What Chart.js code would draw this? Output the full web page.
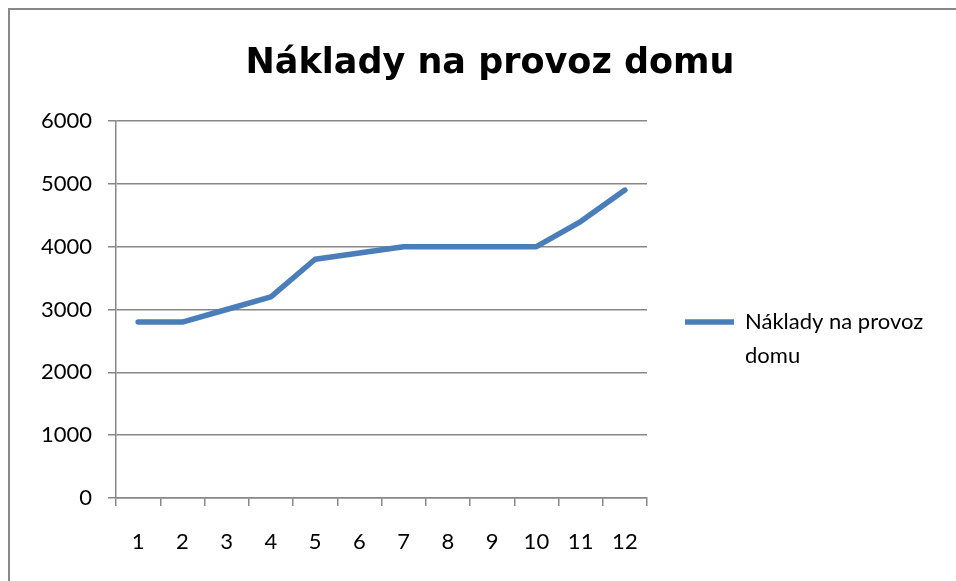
<!DOCTYPE html>
<html><head><meta charset="utf-8">
<script src="https://cdn.jsdelivr.net/npm/chart.js@4"></script>
<style>
html,body{margin:0;padding:0;background:#fff;overflow:hidden;}
#wrap{position:relative;width:956px;height:581px;}
#frame{position:absolute;left:8px;top:8px;width:1000px;height:1000px;border-top:2px solid #898989;border-left:2px solid #898989;pointer-events:none;}
canvas{position:absolute;left:0;top:0;}
</style></head><body>
<div id="wrap"><canvas id="c" width="956" height="581"></canvas><div id="frame"></div></div>
<script>
const chartTitle = 'Náklady na provoz domu';
const seriesName = 'Náklady na provoz domu';
const legendLines = ['Náklady na provoz', 'domu'];
const categories = ['1','2','3','4','5','6','7','8','9','10','11','12'];
const costs = [2800, 2800, 3000, 3200, 3800, 3900, 4000, 4000, 4000, 4000, 4400, 4900];
const yTicks = [0, 1000, 2000, 3000, 4000, 5000, 6000];

const FONT = 'Lato';
const TITLE_FONT = '"DejaVu Sans"';
const LINE_COLOR = '#4a7ebb';
const GRID = '#878787';

// layout targets
const plotLeft = 116, plotRight = 647, plotTop = 121, plotBottom = 498;
const legendX = 685, legendLineW = 49, legendFont = 22, legendFirstLineY = 322;
const titleLeft = 24, titleRight = 956;

const mctx = document.createElement('canvas').getContext('2d');
mctx.font = legendFont + 'px ' + FONT;
const textW = Math.max(...legendLines.map(t => mctx.measureText(t).width));
const itemW = legendLineW + legendFont / 2 + textW;
const padR = Math.max(0, 956 - legendX - 10 - itemW);
const legendPad = legendX - plotRight;
const legendTitleH = (legendFirstLineY - legendFont / 2) - plotTop - legendPad;

const titleSpan = {
  id: 'titleSpan',
  afterLayout(chart) {
    if (chart.titleBlock) { chart.titleBlock.left = titleLeft; chart.titleBlock.right = titleRight; }
  }
};

new Chart(document.getElementById('c'), {
  type: 'line',
  data: {
    labels: categories,
    datasets: [{
      label: seriesName,
      data: costs,
      borderColor: LINE_COLOR,
      backgroundColor: LINE_COLOR,
      borderWidth: 5.5,
      borderCapStyle: 'round',
      borderJoinStyle: 'round',
      pointRadius: 0,
      pointHoverRadius: 0,
      tension: 0,
      fill: false
    }]
  },
  plugins: [titleSpan],
  options: {
    responsive: false,
    animation: false,
    devicePixelRatio: 1,
    events: [],
    layout: { padding: { left: 0, right: padR, top: 0, bottom: 0 } },
    plugins: {
      tooltip: { enabled: false },
      title: {
        display: true,
        text: chartTitle,
        color: '#000',
        font: { family: TITLE_FONT, size: 35, weight: 'bold', lineHeight: 1.2 },
        padding: { top: 43, bottom: plotTop - 43 - 42 }
      },
      legend: {
        display: true,
        position: 'right',
        align: 'start',
        fullSize: false,
        maxWidth: 400,
        title: { display: true, text: ' ', font: { family: FONT, size: 10, lineHeight: 1 }, padding: { top: legendTitleH - 10, bottom: 0 } },
        labels: {
          usePointStyle: true,
          pointStyle: 'line',
          pointStyleWidth: legendLineW,
          padding: legendPad,
          color: '#000',
          font: { family: FONT, size: legendFont, lineHeight: 34 / legendFont },
          generateLabels: (chart) => {
            const items = Chart.defaults.plugins.legend.labels.generateLabels(chart);
            items.forEach(it => { it.text = legendLines; it.pointStyle = 'line'; });
            return items;
          }
        }
      }
    },
    scales: {
      x: {
        type: 'category',
        offset: true,
        afterFit: (s) => { s.height = 581 - plotBottom; },
        grid: { offset: true, drawOnChartArea: false, drawTicks: true, tickLength: 8, color: GRID, lineWidth: 1.5 },
        border: { display: true, color: GRID, width: 1.5 },
        ticks: { color: '#000', font: { family: FONT, size: 22 }, padding: 23, maxRotation: 0, autoSkip: false }
      },
      y: {
        min: 0,
        max: 6000,
        afterFit: (s) => { s.width = plotLeft; },
        afterBuildTicks: (s) => { s.ticks = yTicks.map(v => ({ value: v })); },
        grid: { drawOnChartArea: true, drawTicks: true, tickLength: 8, color: GRID, lineWidth: 1.5 },
        border: { display: true, color: GRID, width: 1.5 },
        ticks: { color: '#000', font: { family: FONT, size: 22 }, padding: 16, callback: (v) => String(v) }
      }
    }
  }
});
</script>
</body></html>
